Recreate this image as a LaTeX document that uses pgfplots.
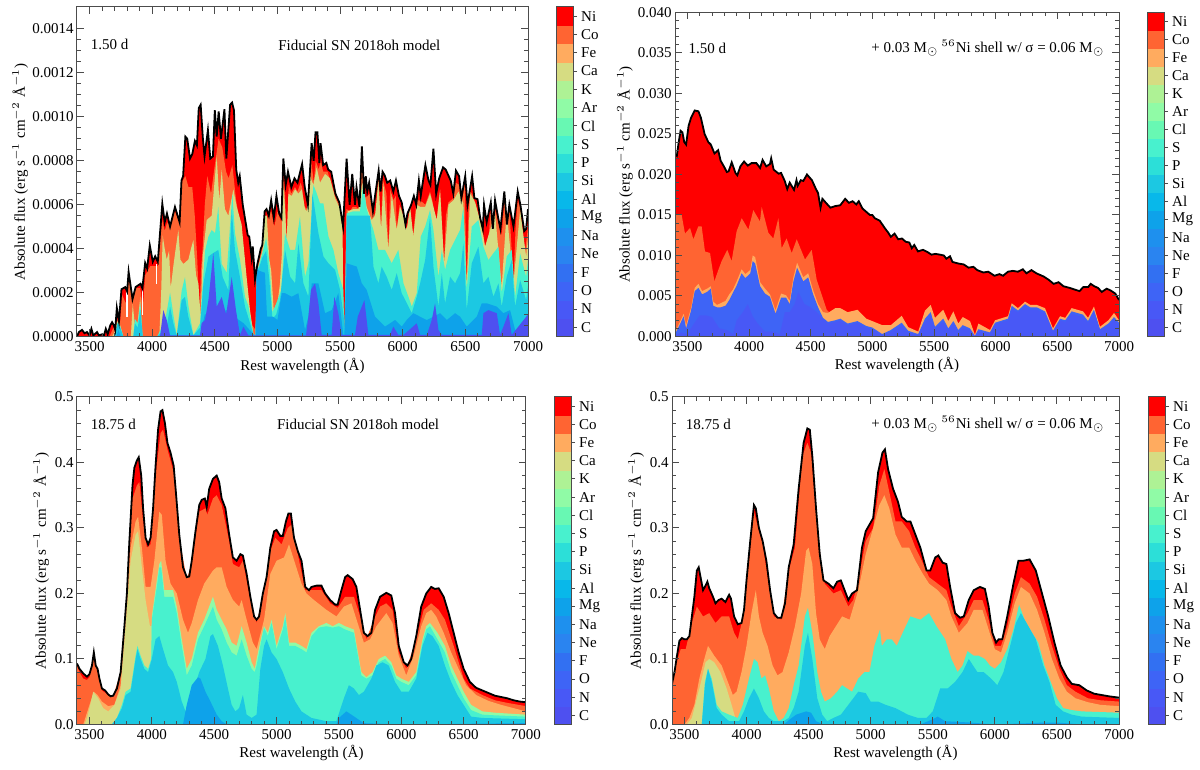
\documentclass[border=0pt]{standalone}
\usepackage{pgfplots}
\usepackage{pgfplotstable}
\pgfplotsset{compat=1.18}
\usepackage{fontspec}
\setmainfont{Liberation Serif}
\definecolor{cNi}{HTML}{FF0000}\definecolor{cCo}{HTML}{FF6432}\definecolor{cFe}{HTML}{FFAB5F}
\definecolor{cCa}{HTML}{D6DC82}\definecolor{cK}{HTML}{AEF295}\definecolor{cAr}{HTML}{90FBA6}
\definecolor{cCl}{HTML}{68F8B3}\definecolor{cS}{HTML}{48F1CE}\definecolor{cP}{HTML}{2CDFD8}
\definecolor{cSi}{HTML}{1CC8E2}\definecolor{cAl}{HTML}{08B8EA}\definecolor{cMg}{HTML}{0EA2EA}
\definecolor{cNa}{HTML}{1E90EE}\definecolor{cNe}{HTML}{2A84F0}\definecolor{cF}{HTML}{3270F2}
\definecolor{cO}{HTML}{3E64F6}\definecolor{cN}{HTML}{4858F6}\definecolor{cC}{HTML}{4E50F0}
\newcommand\fs{\fontsize{7.5}{9}\selectfont}
% ---- panel 1, flux in units of 1e-4: cumulative top of each group of elements
\pgfplotstableread[row sep=\\]{x y\\3400 0\\3415 .2\\3440 .3\\3460 .15\\3480 .2\\3500 .05\\3515 .35\\3530 .05\\3560 .2\\3575 .05\\3600 .1\\3615 .05\\3630 .35\\3645 .1\\3665 .5\\3680 .65\\3695 .5\\3705 .3\\3718 1.3\\3735 .7\\3755 2.15\\3785 2.25\\3800 2.05\\3812 2.95\\3843 1.7\\3868 2.25\\3907 2.4\\3922 2.2\\3944 3.35\\3960 3.1\\3981 4.15\\4005 3.4\\4024 3.65\\4045 3.4\\4081 6.05\\4100 5.2\\4118 5.6\\4143 5.0\\4182 5.9\\4219 5.2\\4234 7.1\\4247 7.3\\4265 9.1\\4280 9.0\\4302 8.1\\4320 8.3\\4341 8.9\\4357 8.7\\4372 10.4\\4387 10.55\\4405 9\\4418 8.2\\4445 9.4\\4464 8.1\\4485 8.2\\4500 10.3\\4515 9.1\\4531 10.25\\4549 9\\4577 10.35\\4592 8.1\\4622 10.55\\4638 10.65\\4653 10.3\\4671 7.6\\4687 7\\4699 7.3\\4723 6\\4763 4.6\\4775 4.55\\4794 3.6\\4803 4.1\\4821 2.6\\4840 3.3\\4867 4\\4879 4.15\\4898 5.7\\4913 5.8\\4931 5.5\\4950 6.2\\4971 5.4\\4992 6.4\\5014 5.6\\5032 5.4\\5047 8.1\\5066 6.9\\5084 7.5\\5111 6.8\\5136 7.2\\5160 7\\5197 7.85\\5218 6.8\\5243 6\\5273 8.8\\5289 8\\5304 9.3\\5319 9.3\\5335 7.9\\5344 8.8\\5365 7.8\\5390 7.9\\5405 7.6\\5429 7.5\\5463 6.5\\5494 6.1\\5524 5\\5552 8.1\\5576 6\\5597 7.4\\5619 6\\5631 6.8\\5655 5.9\\5674 8.65\\5692 6.5\\5705 7.3\\5717 6.6\\5732 7\\5762 5.7\\5784 6.6\\5808 7.55\\5823 6.6\\5839 7.5\\5855 7.35\\5876 7\\5900 7.1\\5925 6.6\\5946 7.1\\5970 6.4\\5992 6.1\\6022 5.1\\6038 5.6\\6068 6\\6089 6.4\\6108 6\\6129 7.1\\6144 6.4\\6181 7.8\\6206 7.1\\6221 6.9\\6245 8.55\\6267 6.5\\6291 7.2\\6322 7.7\\6343 7.6\\6383 7.1\\6404 6.5\\6425 7.55\\6450 7.3\\6468 6.3\\6499 7.3\\6517 6\\6554 7.3\\6572 6.3\\6597 6.25\\6618 5.4\\6639 4.9\\6649 6\\6670 5.2\\6703 6.1\\6719 4.9\\6737 6.2\\6762 5.4\\6780 4.9\\6811 6.6\\6832 5.1\\6851 6\\6884 5\\6918 6.6\\6939 6\\6970 4.8\\6985 4.9\\7000 5.8\\}\Aa
\pgfplotstableread[row sep=\\]{x y\\3660 0\\3690 .4\\3705 .3\\3725 .8\\3745 .7\\3760 1.9\\3790 1.5\\3815 2.7\\3845 1.6\\3870 2.2\\3905 2.2\\3925 1.3\\3945 2.8\\3985 3.2\\4045 3.2\\4080 5.3\\4100 4.8\\4120 5.2\\4145 5\\4180 5.7\\4210 5.3\\4235 7\\4265 7.3\\4290 6.8\\4320 6.8\\4340 5.5\\4360 3.5\\4378 1\\4390 3\\4403 4\\4420 6\\4440 7.3\\4470 6.5\\4500 7.8\\4530 9\\4560 8.6\\4590 7.5\\4610 7.2\\4640 7.8\\4670 6.2\\4700 5.2\\4725 3.8\\4770 1.2\\4800 .5\\4825 .3\\4838 3.2\\4880 4.1\\4890 5.3\\4920 5.4\\4950 5.7\\4975 5\\5000 5.7\\5030 5.2\\5047 7.3\\5060 6.5\\5074 4.3\\5090 6.9\\5110 6.5\\5140 6.8\\5160 6.6\\5185 7\\5197 6.8\\5215 5.9\\5240 5.8\\5270 8\\5290 7\\5305 8\\5330 7.6\\5345 8\\5365 7.5\\5400 7.5\\5460 6.4\\5495 6\\5515 5\\5528 0\\5535 0\\5550 5.8\\5580 5.7\\5600 5.9\\5625 5.9\\5650 5.8\\5675 8.5\\5690 6.3\\5720 6.4\\5740 6.5\\5762 5.6\\5785 5.5\\5808 7.2\\5827 4.9\\5840 7.2\\5870 6.5\\5885 4\\5900 6.7\\5925 6.2\\5945 6.4\\5952 4.9\\5975 6\\6000 5.6\\6030 4.9\\6045 5.2\\6059 6\\6070 4.7\\6085 4.7\\6110 6.2\\6130 6.2\\6160 6.1\\6180 6\\6218 6.6\\6240 6.1\\6262 5\\6272 5.4\\6298 6.7\\6330 3.4\\6345 5.5\\6365 6.1\\6385 6.2\\6404 6.3\\6425 7\\6450 6.9\\6468 6\\6495 6.9\\6511 2.3\\6525 5.8\\6538 6.6\\6554 6.5\\6572 6.2\\6600 5.6\\6631 5\\6657 4.1\\6685 4.4\\6700 5.7\\6720 4.8\\6737 5.8\\6762 5.2\\6790 4.6\\6811 6.1\\6832 5.8\\6851 5.8\\6884 2.5\\6900 4.8\\6918 6.2\\6940 5.8\\6975 3.8\\7000 5\\}\Ab
\pgfplotstableread[row sep=\\]{x y\\3680 0\\3700 .2\\3720 .7\\3745 .5\\3770 0\\3830 0\\3845 1.5\\3860 .6\\3880 .4\\3905 1.8\\3920 0\\3985 0\\4057 0\\4072 2\\4084 4.6\\4100 4\\4116 3.5\\4135 3.9\\4148 2.2\\4169 3.2\\4183 3.8\\4209 4.85\\4225 3.5\\4249 3.3\\4289 3.5\\4310 4\\4329 4.4\\4350 2.8\\4369 2.4\\4387 .9\\4403 3.6\\4435 5.3\\4475 5.5\\4515 8.2\\4536 6.2\\4555 7.6\\4581 5.8\\4608 5.5\\4648 6.7\\4675 5.9\\4714 5.1\\4754 2.7\\4781 1.2\\4808 .1\\4825 0\\4838 3\\4880 3.9\\4895 5.5\\4915 5.5\\4935 3.5\\4950 3\\4970 1.2\\5000 1.5\\5020 2.4\\5036 3.8\\5040 7.2\\5055 6.4\\5074 4.3\\5087 6.5\\5114 6.4\\5141 6.7\\5167 6.5\\5194 6.7\\5220 5.8\\5234 5.7\\5260 7.3\\5287 6.9\\5313 7.7\\5340 7\\5380 7.4\\5420 7.2\\5460 6.3\\5500 5.8\\5520 4.8\\5528 0\\5537 0\\5561 5.7\\5606 5.8\\5646 5.8\\5678 7\\5712 5.9\\5752 5.3\\5779 5.5\\5806 7.1\\5827 4.85\\5846 7\\5885 3.94\\5912 6.5\\5952 4.85\\5979 5.9\\6006 5.46\\6032 4.85\\6059 5.9\\6085 4.55\\6112 6\\6139 5.9\\6179 5.9\\6218 6.5\\6245 5.9\\6272 5.3\\6298 6.67\\6330 3.33\\6365 6\\6405 6.2\\6445 6.6\\6484 6.06\\6511 2.27\\6538 6.52\\6578 6.1\\6631 5\\6657 4.09\\6697 4.85\\6737 5.61\\6790 2.27\\6830 5.7\\6884 2.42\\6937 5.76\\6985 3.64\\7000 4.5\\}\Ac
\pgfplotstableread[row sep=\\]{x y\\3700 0\\3725 .65\\3745 .45\\3770 0\\3850 0\\3862 .8\\3885 .6\\3905 1.5\\3925 0\\4040 0\\4103 .7\\4143 2\\4169 1\\4196 .05\\4236 2.1\\4262 2.7\\4289 1.4\\4329 .05\\4382 .6\\4422 3.9\\4449 4.55\\4475 4.85\\4502 4.7\\4528 5.9\\4555 3.3\\4595 2.9\\4640 6.5\\4661 4.7\\4701 3.5\\4741 1.8\\4768 1.4\\4808 .1\\4825 .05\\4835 2.9\\4880 3.8\\4910 4.5\\4935 3.4\\4960 1.1\\4990 1.5\\5030 2.1\\5060 4.7\\5101 3.94\\5141 3.94\\5180 5.46\\5220 2.72\\5247 3.33\\5287 6.9\\5313 6.52\\5340 6.06\\5367 6.06\\5407 4.55\\5447 3.94\\5486 2.88\\5526 2.12\\5534 .05\\5553 5.6\\5606 5.7\\5659 5.7\\5686 7\\5712 5.8\\5766 4.85\\5806 3.94\\5859 3.94\\5912 3.33\\5965 3.94\\6006 2.42\\6046 1.8\\6072 1.36\\6112 1.97\\6144 4.55\\6179 5\\6218 5.76\\6245 4.85\\6285 2.72\\6312 3.94\\6338 3.03\\6378 3.94\\6418 4.4\\6458 4.85\\6484 5.9\\6511 2.12\\6551 5\\6604 5.3\\6644 4.09\\6684 3.48\\6724 3.79\\6764 4.09\\6790 1.97\\6830 3.64\\6870 3.94\\6897 1.81\\6937 3.79\\6985 2.72\\7000 3.5\\}\Ad
\pgfplotstableread[row sep=\\]{x y\\3700 0\\3725 .6\\3745 .4\\3770 0\\3850 0\\3862 .6\\3885 .4\\3905 1.2\\3925 0\\4040 0\\4116 .45\\4143 1.36\\4169 .6\\4196 .03\\4236 1.66\\4262 1.8\\4289 .9\\4329 .05\\4382 .4\\4409 2.4\\4449 3.64\\4488 3.8\\4528 3.94\\4563 2.7\\4608 2.1\\4635 5.76\\4661 3.94\\4701 2.7\\4741 1.36\\4808 .1\\4825 .05\\4835 2.8\\4880 3.6\\4910 3.9\\4935 2.6\\4960 .8\\4990 1\\5021 1.66\\5061 3.94\\5101 2.72\\5141 2.42\\5167 4.24\\5207 2.42\\5247 1.81\\5279 6.52\\5327 4.7\\5367 3.64\\5407 3.33\\5460 3.03\\5500 2.12\\5529 .9\\5534 .05\\5553 5.5\\5606 5.5\\5659 5.5\\5739 5.5\\5766 3.18\\5806 2.42\\5832 3.18\\5872 2.72\\5912 2.12\\5952 2.88\\5992 1.97\\6046 1.36\\6072 1.06\\6112 1.81\\6139 2.42\\6179 3.48\\6218 5.46\\6245 3.18\\6285 1.36\\6312 2.88\\6338 1.51\\6378 2.72\\6418 2.42\\6458 2.88\\6484 4.24\\6511 1.2\\6551 3.33\\6604 4.09\\6644 2.42\\6684 2.72\\6724 1.81\\6764 2.42\\6790 1.36\\6830 2.72\\6870 3.48\\6897 1.36\\6937 2.57\\6985 1.66\\7000 2.3\\}\Ae
\pgfplotstableread[row sep=\\]{x y\\3715 0\\3730 .3\\3750 0\\4380 0\\4420 1\\4600 1.2\\4680 .8\\4730 .6\\4825 0\\4834 3.3\\4850 3\\4900 2.9\\4917 .9\\4965 .9\\5000 .75\\5034 1.97\\5061 1.97\\5114 1.81\\5167 1.97\\5220 .3\\5247 .9\\5274 2.42\\5327 2.42\\5380 1.06\\5433 1.2\\5486 1.97\\5526 .07\\5534 .05\\5553 3.33\\5633 3.18\\5673 2.42\\5712 2.12\\5779 .9\\5859 .45\\5939 .75\\5992 .45\\6032 .75\\6085 1.06\\6139 .9\\6192 .75\\6245 .9\\6298 1.06\\6352 .75\\6418 1.06\\6458 .9\\6511 .45\\6591 .9\\6631 1.51\\6671 1.51\\6751 1.36\\6804 1.06\\6857 1.2\\6897 .3\\6937 .3\\6990 .9\\7000 .9\\}\Af
\pgfplotstableread[row sep=\\]{x y\\4063 0\\4089 1.2\\4116 .75\\4143 .05\\4382 .05\\4395 .6\\4422 .75\\4449 1.66\\4488 3.8\\4515 1.36\\4555 1.8\\4590 1\\4635 2.7\\4669 1.2\\4701 .05\\4728 .45\\4768 .05\\5228 .05\\5247 .9\\5268 2.12\\5300 2.42\\5327 1.51\\5353 .07\\5433 .07\\5454 1.81\\5486 1.06\\5513 .07\\5619 .07\\5641 .9\\5694 1.66\\5726 .07\\5899 .07\\5925 .45\\5965 .07\\6006 .07\\6112 .6\\6139 .07\\6192 .07\\6232 .75\\6258 1.51\\6285 .3\\6312 .07\\6511 .07\\6631 .07\\6644 1.06\\6684 1.2\\6751 1.06\\6777 .07\\6804 .45\\6844 1.06\\6870 .07\\7000 1\\}\Ag
% ---- panel 2, flux in units of 1e-3
\pgfplotstableread[row sep=\\]{x y\\3400 22.5\\3415 22.3\\3430 24\\3445 25.4\\3460 25.2\\3475 24\\3490 23.7\\3510 26\\3530 27\\3560 27.9\\3590 27.8\\3610 27\\3640 25\\3670 24\\3690 23.7\\3720 22.6\\3750 23\\3770 21.7\\3800 20.9\\3820 20.3\\3835 20.4\\3860 21.5\\3890 20.2\\3905 19.9\\3930 21\\3960 21.6\\3990 21.1\\4020 21.4\\4060 21.4\\4090 20.8\\4110 21.8\\4140 21\\4170 21.3\\4180 22\\4200 20.6\\4240 20.1\\4260 20.2\\4290 19.2\\4310 18.2\\4330 19\\4365 18.1\\4385 19.3\\4395 18.6\\4420 19.3\\4440 19.2\\4470 20\\4510 19.3\\4540 18.3\\4560 17.7\\4580 15.9\\4595 17\\4630 16.4\\4660 15.9\\4700 16.1\\4740 16.2\\4780 17\\4810 16.5\\4840 16.7\\4870 16.3\\4890 16.7\\4920 15.8\\4950 15.4\\4980 15\\5000 15\\5020 14.6\\5060 14.3\\5100 13.4\\5130 12.8\\5150 12.3\\5180 12.7\\5210 12\\5240 12.1\\5270 11.7\\5300 11.6\\5320 10.9\\5340 11.3\\5370 10.5\\5410 10.7\\5450 10.4\\5480 10.1\\5510 10.2\\5550 10.1\\5580 10\\5600 9.6\\5630 9.9\\5650 9.2\\5700 9\\5740 8.9\\5780 8.5\\5820 8.6\\5850 8.2\\5900 7.9\\5940 8\\5990 7.5\\6030 7.7\\6060 7.5\\6100 8\\6140 8.1\\6180 8\\6220 8.3\\6250 7.8\\6290 8.2\\6330 7.8\\6390 7.4\\6430 7\\6470 6.5\\6510 6.7\\6550 6.2\\6600 6\\6640 5.8\\6680 5.6\\6710 6.1\\6750 6.1\\6770 6.5\\6800 6.2\\6830 6\\6860 5.5\\6900 5.9\\6930 5.7\\6970 5.3\\7000 4.5\\}\Ba
\pgfplotstableread[row sep=\\]{x y\\3400 15\\3454 15\\3481 12.7\\3522 13.4\\3549 12\\3589 13.6\\3616 13.6\\3643 10.5\\3684 10.3\\3719 6.8\\3751 8.2\\3778 9.3\\3824 10.7\\3859 9.3\\3900 13\\3941 14.6\\3995 13.2\\4035 15.6\\4089 14.2\\4103 16\\4157 12.8\\4197 12.1\\4238 14.6\\4265 10.9\\4305 12.1\\4346 10.3\\4387 12\\4454 9.5\\4508 10.7\\4549 7\\4630 3.3\\4650 3\\}\Bb
\pgfplotstableread[row sep=\\]{x y\\3400 .5\\3440 1.8\\3470 2.8\\3490 1.4\\3530 3.5\\3560 6\\3590 6.5\\3620 5.6\\3660 5.9\\3690 6.2\\3710 4.3\\3740 3.9\\3770 4.1\\3810 4.4\\3840 5.2\\3870 5.8\\3900 6.8\\3940 8.3\\3970 7.7\\4010 8.2\\4030 10\\4050 9.8\\4090 6.7\\4130 5.9\\4170 5.2\\4215 3.2\\4260 5.3\\4300 5.1\\4330 4.4\\4360 7.3\\4390 9.1\\4440 7.3\\4480 7.8\\4520 5.7\\4560 4\\4600 3\\4640 2.9\\4700 3.5\\4740 3.5\\4800 3\\4880 3.3\\4950 2.2\\5000 1.9\\5080 1.4\\5150 1.4\\5238 2.55\\5291 1.15\\5372 .6\\5427 3.2\\5473 3.9\\5508 2.3\\5575 3.3\\5616 1.9\\5657 3.1\\5697 1.6\\5733 2.4\\5792 1.9\\5832 .2\\5860 1.6\\5954 .8\\5995 2\\6100 2.5\\6130 4.1\\6181 3.5\\6238 4.3\\6280 3.9\\6333 3.9\\6400 3.5\\6465 1\\6522 2.5\\6564 2.3\\6616 3.5\\6708 3.1\\6749 2.3\\6797 3.7\\6846 1.2\\6914 2\\6960 2.9\\7000 2\\}\Bc
\pgfplotstableread[row sep=\\]{x y\\3400 .3\\3440 1.5\\3470 2.5\\3490 1\\3530 3.2\\3560 5.6\\3590 6\\3620 5.2\\3660 5.5\\3690 5.9\\3710 3.8\\3740 3.6\\3770 3.6\\3810 3.8\\3840 4.5\\3870 5.4\\3900 6.3\\3940 7.8\\3970 7.2\\4010 7.8\\4030 9.3\\4050 9\\4090 6.2\\4130 5.3\\4170 4.9\\4215 2.8\\4260 4.8\\4300 4.8\\4330 4\\4360 6.8\\4390 8.5\\4440 6.8\\4480 7.3\\4520 5.2\\4560 3.6\\4600 2.3\\4640 1.8\\4700 2\\4740 2.2\\4800 1.6\\4880 1.9\\4950 1.3\\5000 1.1\\5080 .3\\5150 .8\\5238 1.7\\5291 .7\\5372 .3\\5427 2.2\\5473 3\\5508 1.2\\5575 2.2\\5616 1\\5657 1.9\\5697 .8\\5733 1.4\\5792 1\\5832 .05\\5860 .9\\5954 .5\\5995 1.7\\6100 2.2\\6130 3.8\\6181 3.2\\6238 4\\6280 3.6\\6333 3.6\\6400 3.1\\6465 .7\\6522 2.2\\6564 2\\6616 3.1\\6708 2.7\\6749 1.9\\6797 3.3\\6846 .9\\6914 1.6\\6960 2.4\\7000 1.7\\}\Bd
\pgfplotstableread[row sep=\\]{x y\\3400 .2\\3450 .5\\3500 .3\\3550 1.5\\3600 2.6\\3650 2.6\\3700 2.4\\3760 1\\3820 .8\\3870 .3\\3900 2\\3950 3\\3990 4\\4030 2.5\\4070 1.6\\4130 .6\\4190 .6\\4250 .3\\4290 3\\4330 3\\4370 4\\4400 5.5\\4450 4\\4500 3.6\\4550 3\\4600 2.2\\4640 1.6\\4700 1.8\\4740 2\\4800 1.4\\4880 1.7\\4950 1.1\\5000 .9\\5080 .2\\5150 .6\\5238 1.4\\5291 .5\\5372 .2\\5427 1.8\\5473 2.4\\5508 1\\5575 1.8\\5616 .8\\5657 1.6\\5697 .6\\5733 1.1\\5792 .8\\5832 .05\\5860 .7\\5954 .4\\5995 1.5\\6100 2\\6130 3.4\\6181 3\\6238 3.7\\6280 3.3\\6333 3.3\\6400 2.9\\6465 .6\\6522 2\\6564 1.8\\6616 2.8\\6708 2.4\\6749 1.7\\6797 3\\6846 .8\\6914 1.4\\6960 2.1\\7000 1.4\\}\Be
% ---- panel 3
\pgfplotstableread[row sep=\\]{x y\\3400 .093\\3420 .085\\3450 .078\\3480 .073\\3500 .077\\3520 .09\\3535 .11\\3550 .09\\3565 .085\\3580 .07\\3600 .055\\3625 .052\\3650 .046\\3670 .043\\3690 .044\\3720 .055\\3750 .08\\3780 .15\\3800 .2\\3820 .28\\3845 .365\\3860 .392\\3880 .403\\3895 .408\\3915 .38\\3930 .33\\3950 .285\\3970 .275\\3990 .285\\4010 .33\\4030 .395\\4050 .45\\4070 .478\\4085 .48\\4105 .46\\4125 .43\\4150 .415\\4175 .395\\4195 .35\\4220 .29\\4250 .24\\4280 .225\\4300 .226\\4320 .25\\4350 .295\\4380 .335\\4400 .343\\4425 .345\\4440 .332\\4460 .36\\4490 .375\\4520 .38\\4540 .37\\4560 .345\\4590 .33\\4620 .29\\4650 .255\\4680 .25\\4710 .26\\4730 .258\\4760 .23\\4790 .195\\4820 .165\\4840 .16\\4860 .165\\4890 .2\\4920 .225\\4950 .27\\4980 .295\\5000 .297\\5030 .288\\5050 .288\\5075 .31\\5095 .322\\5115 .322\\5140 .285\\5170 .265\\5200 .25\\5230 .21\\5260 .205\\5280 .21\\5320 .212\\5360 .212\\5390 .2\\5430 .19\\5470 .183\\5490 .183\\5520 .205\\5550 .225\\5570 .228\\5610 .222\\5640 .21\\5670 .175\\5700 .14\\5730 .135\\5760 .14\\5790 .175\\5830 .195\\5880 .201\\5920 .197\\5950 .17\\5980 .12\\6020 .095\\6050 .09\\6080 .1\\6120 .135\\6160 .18\\6200 .2\\6240 .21\\6270 .207\\6300 .208\\6340 .195\\6380 .17\\6420 .14\\6460 .11\\6500 .085\\6550 .065\\6600 .056\\6650 .052\\6700 .048\\6750 .044\\6800 .042\\6850 .04\\6900 .037\\6950 .035\\7000 .034\\}\Ca
\pgfplotstableread[row sep=\\]{x y\\3400 .09\\3420 .08\\3450 .07\\3480 .068\\3500 .072\\3535 .105\\3565 .08\\3600 .052\\3650 .045\\3690 .043\\3750 .08\\3800 .2\\3845 .345\\3880 .365\\3900 .37\\3930 .31\\3960 .27\\3990 .275\\4030 .38\\4070 .445\\4090 .45\\4125 .42\\4175 .385\\4220 .285\\4280 .222\\4320 .245\\4380 .325\\4430 .33\\4445 .32\\4490 .345\\4520 .35\\4560 .335\\4620 .28\\4650 .245\\4700 .24\\4730 .25\\4790 .19\\4840 .155\\4890 .195\\4950 .265\\4990 .285\\5040 .275\\5090 .3\\5120 .305\\5170 .26\\5230 .205\\5280 .205\\5360 .205\\5430 .185\\5490 .178\\5550 .195\\5620 .195\\5670 .165\\5720 .13\\5780 .16\\5830 .18\\5880 .185\\5930 .175\\5980 .11\\6040 .085\\6120 .13\\6180 .175\\6240 .185\\6300 .175\\6350 .16\\6420 .12\\6500 .07\\6550 .055\\6650 .045\\6750 .037\\6850 .033\\7000 .028\\}\Cb
\pgfplotstableread[row sep=\\]{x y\\3400 0\\3450 0\\3500 .03\\3535 .05\\3565 .045\\3600 .035\\3650 .028\\3700 .03\\3750 .06\\3790 .17\\3830 .27\\3870 .31\\3890 .317\\3920 .27\\3950 .21\\3990 .21\\4020 .25\\4060 .325\\4080 .32\\4110 .25\\4150 .215\\4200 .2\\4250 .16\\4290 .14\\4320 .155\\4370 .19\\4420 .215\\4490 .235\\4520 .24\\4560 .24\\4600 .21\\4650 .19\\4700 .18\\4720 .19\\4760 .16\\4810 .125\\4840 .115\\4900 .16\\4950 .23\\5000 .25\\5060 .255\\5100 .275\\5150 .245\\5200 .215\\5240 .2\\5300 .19\\5400 .175\\5480 .165\\5540 .18\\5600 .185\\5650 .155\\5700 .125\\5750 .13\\5800 .15\\5880 .17\\5930 .155\\5980 .105\\6040 .075\\6100 .105\\6160 .15\\6200 .17\\6240 .175\\6280 .165\\6340 .14\\6400 .11\\6460 .085\\6520 .06\\6600 .045\\6700 .036\\6800 .03\\7000 .02\\}\Cc
\pgfplotstableread[row sep=\\]{x y\\3460 0\\3480 .01\\3500 .025\\3530 .05\\3570 .04\\3610 .025\\3650 .02\\3700 .03\\3750 .055\\3790 .15\\3830 .25\\3870 .29\\3890 .295\\3920 .24\\3950 .19\\3985 .15\\4000 .15\\4010 .16\\}\Cd
\pgfplotstableread[row sep=\\]{x y\\3990 0\\4000 .165\\4040 .22\\4060 .245\\4075 .25\\4100 .205\\4130 .205\\4170 .205\\4200 .18\\4240 .13\\4280 .085\\4320 .1\\4370 .14\\4420 .16\\4490 .195\\4520 .175\\4560 .16\\4600 .145\\4640 .125\\4680 .12\\4720 .15\\4760 .125\\4800 .095\\4825 .085\\4840 .1\\4880 .135\\4900 .15\\4930 .14\\4960 .16\\5000 .12\\5050 .15\\5070 .17\\5100 .125\\5150 .125\\5200 .12\\5240 .115\\5280 .14\\5340 .15\\5400 .155\\5450 .15\\5500 .155\\5550 .15\\5620 .145\\5680 .08\\5720 .072\\5770 .08\\5820 .1\\5870 .105\\5920 .095\\5960 .075\\6000 .07\\6060 .065\\6120 .08\\6170 .13\\6200 .15\\6230 .155\\6290 .14\\6350 .12\\6400 .09\\6450 .07\\6500 .05\\6560 .03\\6650 .02\\6750 .018\\7000 .015\\}\Ce
\pgfplotstableread[row sep=\\]{x y\\3680 0\\3720 .01\\3760 .03\\3790 .05\\3830 .055\\3870 .105\\3885 .12\\3910 .105\\3940 .09\\3970 .085\\3995 .1\\4000 .16\\4040 .21\\4060 .24\\4075 .24\\4100 .195\\4130 .195\\4170 .195\\4200 .17\\4240 .12\\4280 .075\\4320 .09\\4370 .13\\4420 .15\\4490 .18\\4520 .16\\4560 .145\\4600 .125\\4640 .11\\4680 .105\\4720 .13\\4760 .105\\4800 .085\\4825 .08\\4840 .09\\4880 .13\\4900 .148\\4930 .135\\4960 .155\\5000 .115\\5050 .145\\5070 .165\\5100 .12\\5150 .12\\5200 .115\\5240 .11\\5280 .135\\5340 .148\\5400 .15\\5450 .148\\5500 .15\\5550 .145\\5620 .14\\5680 .075\\5720 .07\\5770 .075\\5820 .095\\5870 .1\\5920 .09\\5960 .07\\6000 .065\\6060 .06\\6120 .075\\6170 .125\\6200 .145\\6230 .15\\6290 .13\\6350 .11\\6400 .08\\6450 .06\\6500 .04\\6560 .022\\6650 .015\\6750 .014\\7000 .012\\}\Cf
\pgfplotstableread[row sep=\\]{x y\\3680 0\\3720 .01\\3760 .025\\3790 .045\\3830 .05\\3870 .1\\3885 .115\\3910 .1\\3940 .085\\3970 .08\\4000 .1\\4030 .13\\4060 .135\\4090 .115\\4130 .09\\4170 .08\\4200 .065\\4240 .035\\4270 .02\\4300 .03\\4340 .055\\4380 .08\\4430 .1\\4470 .135\\4490 .138\\4530 .12\\4570 .09\\4610 .055\\4640 .03\\4670 .02\\4700 .025\\4730 .045\\4760 .015\\4800 .01\\4840 .015\\4870 .085\\4900 .12\\4920 .13\\4960 .11\\5000 .1\\5050 .08\\5100 .055\\5150 .035\\5200 .02\\5280 .01\\5400 .005\\5480 .005\\5540 .04\\5580 .06\\5620 .055\\5660 .045\\5700 .05\\5760 .07\\5800 .09\\5850 .095\\5900 .09\\5950 .065\\6000 .05\\6060 .05\\6120 .07\\6170 .12\\6210 .14\\6250 .135\\6300 .12\\6350 .09\\6400 .065\\6450 .045\\6500 .03\\6560 .012\\6650 .01\\7000 .008\\}\Cg
\pgfplotstableread[row sep=\\]{x y\\4250 0\\4280 .03\\4320 .06\\4370 .072\\4390 .07\\4430 .05\\4470 .035\\4520 .015\\4560 .005\\4600 0\\5480 0\\5500 .01\\5560 .02\\5600 .015\\5700 .002\\6000 0\\7000 .002\\}\Ch
% ---- panel 4
\pgfplotstableread[row sep=\\]{x y\\3400 .062\\3420 .08\\3440 .105\\3460 .128\\3480 .132\\3500 .13\\3520 .13\\3540 .135\\3560 .165\\3580 .195\\3600 .235\\3615 .24\\3630 .225\\3650 .205\\3670 .212\\3685 .218\\3700 .208\\3730 .195\\3750 .185\\3775 .19\\3800 .192\\3830 .187\\3860 .198\\3875 .192\\3900 .165\\3930 .153\\3960 .155\\3980 .175\\4000 .22\\4030 .28\\4060 .335\\4075 .33\\4100 .3\\4130 .28\\4160 .25\\4190 .205\\4220 .17\\4250 .163\\4280 .163\\4310 .185\\4340 .24\\4380 .275\\4420 .36\\4460 .43\\4490 .452\\4510 .45\\4530 .41\\4560 .33\\4590 .26\\4620 .22\\4660 .215\\4700 .208\\4730 .218\\4760 .22\\4790 .205\\4820 .19\\4850 .2\\4890 .205\\4930 .27\\4960 .295\\4990 .305\\5020 .315\\5060 .385\\5095 .415\\5115 .42\\5140 .39\\5180 .36\\5220 .34\\5250 .317\\5290 .31\\5320 .31\\5360 .29\\5400 .27\\5450 .235\\5480 .235\\5520 .255\\5545 .258\\5580 .247\\5610 .245\\5640 .21\\5680 .17\\5720 .163\\5750 .165\\5790 .19\\5830 .205\\5880 .21\\5920 .207\\5950 .18\\5980 .14\\6010 .125\\6030 .13\\6060 .13\\6100 .165\\6150 .215\\6190 .25\\6230 .25\\6280 .252\\6330 .235\\6380 .2\\6430 .165\\6480 .125\\6530 .09\\6580 .072\\6620 .062\\6680 .06\\6740 .052\\6800 .047\\6860 .045\\6920 .043\\7000 .041\\}\Da
\pgfplotstableread[row sep=\\]{x y\\3400 .06\\3430 .09\\3470 .115\\3510 .115\\3560 .155\\3600 .18\\3650 .165\\3700 .17\\3750 .155\\3800 .165\\3860 .165\\3900 .14\\3930 .13\\3980 .17\\4020 .25\\4060 .325\\4100 .295\\4130 .275\\4190 .2\\4220 .165\\4280 .16\\4340 .235\\4390 .27\\4450 .41\\4490 .43\\4520 .415\\4560 .32\\4600 .25\\4630 .215\\4700 .2\\4760 .205\\4820 .18\\4860 .19\\4900 .22\\4960 .28\\5020 .3\\5070 .365\\5110 .39\\5150 .355\\5200 .31\\5250 .31\\5310 .295\\5360 .27\\5400 .255\\5470 .225\\5540 .215\\5610 .205\\5650 .18\\5710 .15\\5780 .17\\5830 .19\\5900 .19\\5950 .16\\6000 .12\\6050 .12\\6100 .15\\6160 .2\\6210 .225\\6280 .215\\6340 .195\\6400 .16\\6460 .12\\6520 .085\\6580 .06\\6650 .05\\6750 .04\\6850 .037\\7000 .035\\}\Db
\pgfplotstableread[row sep=\\]{x y\\3500 0\\3540 .01\\3580 .03\\3620 .07\\3660 .1\\3690 .12\\3740 .105\\3800 .09\\3850 .065\\3890 .045\\3920 .05\\3960 .08\\4000 .12\\4040 .17\\4075 .205\\4100 .165\\4130 .14\\4170 .12\\4210 .09\\4250 .075\\4290 .08\\4340 .11\\4390 .15\\4440 .2\\4480 .265\\4500 .27\\4530 .245\\4560 .17\\4590 .13\\4630 .115\\4670 .135\\4720 .15\\4770 .165\\4830 .16\\4900 .205\\4960 .26\\5020 .3\\5070 .335\\5110 .35\\5150 .33\\5200 .29\\5250 .27\\5310 .27\\5360 .25\\5420 .23\\5470 .215\\5540 .205\\5610 .19\\5650 .165\\5710 .14\\5780 .155\\5830 .175\\5900 .175\\5950 .145\\6000 .115\\6050 .11\\6100 .14\\6160 .185\\6210 .21\\6280 .2\\6340 .175\\6400 .14\\6460 .1\\6520 .07\\6580 .05\\6650 .04\\6750 .034\\6850 .03\\7000 .028\\}\Dc
\pgfplotstableread[row sep=\\]{x y\\3520 0\\3560 .01\\3600 .04\\3640 .07\\3670 .095\\3700 .1\\3740 .095\\3790 .08\\3840 .055\\3880 .03\\3910 .01\\3930 0\\}\Dd
\pgfplotstableread[row sep=\\]{x y\\3640 0\\3665 .065\\3690 .085\\3720 .07\\3760 .03\\3800 .02\\3860 .015\\3930 .01\\3970 .03\\4020 .07\\4060 .1\\4090 .095\\4120 .07\\4150 .075\\4180 .055\\4220 .02\\4260 .005\\4300 .01\\4340 .025\\4380 .06\\4420 .09\\4470 .165\\4495 .178\\4530 .14\\4570 .08\\4600 .05\\4630 .035\\4680 .04\\4730 .05\\4770 .06\\4810 .055\\4850 .05\\4900 .07\\4950 .08\\4990 .08\\5030 .12\\5075 .145\\5090 .12\\5130 .13\\5170 .13\\5210 .12\\5270 .145\\5320 .165\\5400 .16\\5470 .17\\5530 .15\\5600 .13\\5650 .1\\5700 .08\\5740 .09\\5780 .112\\5830 .105\\5870 .105\\5920 .1\\5960 .09\\6000 .085\\6050 .095\\6100 .115\\6150 .145\\6195 .183\\6240 .16\\6300 .14\\6350 .125\\6400 .09\\6450 .065\\6500 .04\\6550 .025\\6620 .022\\6700 .02\\7000 .018\\}\De
\pgfplotstableread[row sep=\\]{x y\\3640 0\\3665 .06\\3690 .085\\3720 .065\\3760 .025\\3800 .015\\3860 .005\\3940 .005\\3980 .02\\4020 .04\\4060 .055\\4100 .04\\4140 .02\\4180 .01\\4220 .005\\4300 .005\\4340 .01\\4380 .025\\4420 .05\\4470 .12\\4495 .14\\4530 .1\\4570 .04\\4610 .015\\4650 .005\\4700 .01\\4760 .015\\4820 .03\\4860 .04\\4900 .05\\4960 .048\\5000 .035\\5060 .035\\5120 .03\\5200 .025\\5300 .015\\5380 .01\\5450 .01\\5500 .02\\5560 .055\\5620 .055\\5680 .065\\5740 .08\\5790 .1\\5860 .08\\5910 .08\\5970 .07\\6020 .06\\6070 .08\\6130 .125\\6170 .155\\6210 .17\\6270 .15\\6330 .13\\6390 .09\\6440 .065\\6490 .03\\6550 .02\\6620 .015\\6700 .012\\7000 .01\\}\Df
\pgfplotstableread[row sep=\\]{x y\\4300 0\\4350 .008\\4400 .015\\4480 .02\\4520 .018\\4560 .005\\4620 0\\5400 0\\5500 .008\\5540 .012\\5600 .005\\5800 .003\\6000 0\\6400 .003\\6500 .003\\6700 0\\7000 0\\}\Dg
% ---- helpers
\newcommand\lay[2]{\addplot[draw=none,fill=#1,forget plot] table[y expr=\thisrowno{1}*\yu] {#2} \closedcycle;}
\newcommand\topline[1]{\addplot[black,line width=0.9pt,forget plot] table[y expr=\thisrowno{1}*\yu] {#1};}
\newcommand\seg[3]{\addplot[fill=#1,draw=#1,line width=0.1pt,forget plot] coordinates {(0,#2)(1,#2)(1,#3)(0,#3)} -- cycle;}
\pgfplotsset{
  panel/.style={scale only axis, anchor=south west, axis on top, xmin=3400, xmax=7000,
    xtick={3500,4000,4500,5000,5500,6000,6500,7000}, minor x tick num=4,
    tick align=inside, major tick length=3.5pt, minor tick length=1.8pt,
    axis line style={black!70,line width=.5pt}, every tick/.append style={black!70,line width=.5pt},
    tick label style={font=\fs}, label style={font=\fs},
    /pgf/number format/assume math mode=true,
    xticklabel style={/pgf/number format/.cd,fixed,1000 sep={},assume math mode=true},
    y tick label style={xshift=1pt},
    xlabel={Rest wavelength (Å)},
    ylabel={Absolute flux (erg s$^{-1}$ cm$^{-2}$ Å$^{-1}$)},
    xlabel style={at={(axis description cs:.5,-0.088)},anchor=center},
    scaled y ticks=false, clip=true},
  cb/.style={scale only axis, anchor=south west, axis on top, xmin=0,xmax=1,ymin=0,ymax=18,
    width=8.5pt, xtick=\empty,
    ytick={0.5,1.5,2.5,3.5,4.5,5.5,6.5,7.5,8.5,9.5,10.5,11.5,12.5,13.5,14.5,15.5,16.5,17.5},
    yticklabels={C,N,O,F,Ne,Na,Mg,Al,Si,P,S,Cl,Ar,K,Ca,Fe,Co,Ni},
    ytick pos=right, yticklabel pos=right, tick align=outside, major tick length=2pt,
    axis line style={black!70,line width=.5pt}, every tick/.append style={black!70,line width=.5pt},
    tick label style={font=\fs}, yticklabel style={xshift=-.6pt}},
}
\tikzset{tag/.style={anchor=west,inner sep=0pt}}
\newcommand\cbar[3]{\begin{axis}[cb,at={(#1,#2)},height=#3]
 \seg{cC}{0}{1}\seg{cN}{1}{2}\seg{cO}{2}{3}\seg{cF}{3}{4}\seg{cNe}{4}{5}\seg{cNa}{5}{6}
 \seg{cMg}{6}{7}\seg{cAl}{7}{8}\seg{cSi}{8}{9}\seg{cP}{9}{10}\seg{cS}{10}{11}\seg{cCl}{11}{12}
 \seg{cAr}{12}{13}\seg{cK}{13}{14}\seg{cCa}{14}{15}\seg{cFe}{15}{16}\seg{cCo}{16}{17}\seg{cNi}{17}{18}
 \end{axis}}
\begin{document}
\fs
\begin{tikzpicture}
\path[use as bounding box] (0,0) rectangle (600pt,385pt);
% panel 1 (pixel box x 77-528, y 7-336.5)
\def\yu{1e-4}
\begin{axis}[panel,at={(38.5pt,216.75pt)},width=225.5pt,height=164.75pt,ymin=0,ymax=.0015,
  ytick={0,.0002,.0004,.0006,.0008,.001,.0012,.0014}, minor y tick num=3,
  yticklabel style={/pgf/number format/.cd,fixed,fixed zerofill,precision=4,assume math mode=true},
  ylabel style={at={(axis description cs:-0.126,.5)},anchor=center}]
 \lay{cNi}{\Aa}\lay{cCo}{\Ab}\lay{cCa}{\Ac}\lay{cS}{\Ad}\lay{cSi}{\Ae}\lay{cMg}{\Af}\lay{cC}{\Ag}
 \addplot[fill=white,draw=none,forget plot] table[y expr=\thisrowno{1}*\yu] {\Aa} -- (axis cs:7000,.0015) -- (axis cs:3400,.0015) -- cycle;
 \addplot[fill=white,draw=none,forget plot] coordinates {(3795,.00021)(3808,.00021)(3808,.00009)(3795,.00009)} -- cycle;
 \addplot[fill=white,draw=none,forget plot] coordinates {(3915,.00022)(3928,.00022)(3928,.0001)(3915,.0001)} -- cycle;
 \addplot[fill=white,draw=none,forget plot] coordinates {(4030,.00033)(4042,.00033)(4042,.00024)(4030,.00024)} -- cycle;
 \topline{\Aa}
 \node[tag] at (axis description cs:.03,.885) {1.50 d};
 \node[anchor=center] at (axis description cs:.626,.885) {Fiducial SN 2018oh model};
\end{axis}
\cbar{278pt}{216.75pt}{164.75pt}
% panel 2 (x 675-1119, y 12.5-336.5)
\def\yu{1e-3}
\begin{axis}[panel,at={(337.5pt,216.75pt)},width=222pt,height=162pt,ymin=0,ymax=.04,
  ytick={0,.005,.01,.015,.02,.025,.03,.035,.04}, minor y tick num=4,
  yticklabel style={/pgf/number format/.cd,fixed,fixed zerofill,precision=3,assume math mode=true},
  ylabel style={at={(axis description cs:-0.113,.5)},anchor=center}]
 \lay{cNi}{\Ba}\lay{cCo}{\Bb}\lay{cFe}{\Bc}\lay{cO}{\Bd}\lay{cN}{\Be}
 \topline{\Ba}
 \node[tag] at (axis description cs:.03,.889) {1.50 d};
 \node[anchor=center] at (axis description cs:.705,.889) {+ 0.03 M$_\odot$\,$^{56}$Ni shell w/ σ = 0.06 M$_\odot$};
\end{axis}
\cbar{573.5pt}{216.75pt}{162pt}
% panel 3 (x 77-526, y 397-724.5)
\def\yu{1}
\begin{axis}[panel,at={(38.5pt,22.75pt)},width=224.5pt,height=163.75pt,ymin=0,ymax=.5,
  ytick={0,.1,.2,.3,.4,.5}, minor y tick num=4,
  yticklabel style={/pgf/number format/.cd,fixed,fixed zerofill,precision=1,assume math mode=true},
  ylabel style={at={(axis description cs:-0.08,.5)},anchor=center}]
 \lay{cNi}{\Ca}\lay{cCo}{\Cb}\lay{cFe}{\Cc}\lay{cCa}{\Cd}\lay{cAr}{\Ce}\lay{cS}{\Cf}\lay{cSi}{\Cg}\lay{cMg}{\Ch}
 \topline{\Ca}
 \node[tag] at (axis description cs:.03,.915) {18.75 d};
 \node[anchor=center] at (axis description cs:.626,.915) {Fiducial SN 2018oh model};
\end{axis}
\cbar{277pt}{22.75pt}{163.75pt}
% panel 4 (x 672-1119, y 397-724.5)
\begin{axis}[panel,at={(336pt,22.75pt)},width=223.5pt,height=163.75pt,ymin=0,ymax=.5,
  ytick={0,.1,.2,.3,.4,.5}, minor y tick num=4,
  yticklabel style={/pgf/number format/.cd,fixed,fixed zerofill,precision=1,assume math mode=true},
  ylabel style={at={(axis description cs:-0.08,.5)},anchor=center}]
 \lay{cNi}{\Da}\lay{cCo}{\Db}\lay{cFe}{\Dc}\lay{cCa}{\Dd}\lay{cS}{\De}\lay{cSi}{\Df}\lay{cMg}{\Dg}
 \topline{\Da}
 \node[tag] at (axis description cs:.03,.915) {18.75 d};
 \node[anchor=center] at (axis description cs:.707,.918) {+ 0.03 M$_\odot$\,$^{56}$Ni shell w/ σ = 0.06 M$_\odot$};
\end{axis}
\cbar{574pt}{22.75pt}{163.75pt}
\end{tikzpicture}
\end{document}
